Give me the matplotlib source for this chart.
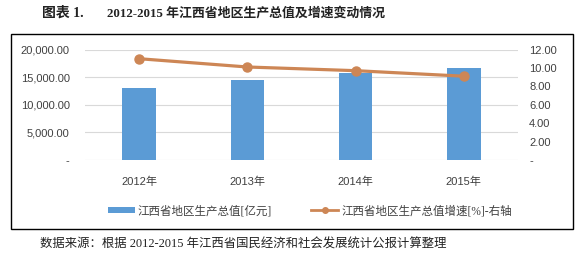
import matplotlib
matplotlib.use("Agg")
import matplotlib.pyplot as plt
from matplotlib.patches import Rectangle, Patch
from matplotlib.lines import Line2D
from matplotlib.ticker import FuncFormatter, FixedLocator

plt.rcParams['font.family'] = ['Liberation Sans', 'Noto Sans CJK SC']

years = ["2012年", "2013年", "2014年", "2015年"]
gdp = [12948.9, 14410.2, 15714.6, 16723.8]
growth = [11.0, 10.1, 9.7, 9.1]
left_ticks = [0, 5000, 10000, 15000, 20000]
right_ticks = [0, 2, 4, 6, 8, 10, 12]

W, H = 585, 261
fig = plt.figure(figsize=(W / 100, H / 100), dpi=100)

def fx(x):
    return x / W

def fy(y):
    return 1 - y / H

ax = fig.add_axes([fx(85), fy(160), fx(518) - fx(85), fy(49.5) - fy(160)])
x = list(range(len(years)))
ax.bar(x, gdp, width=0.31, color="#5B9BD5", zorder=2)
ax.set_xlim(-0.5, len(years) - 0.5)
ax.set_ylim(0, 20000)
ax.yaxis.set_major_locator(FixedLocator(left_ticks))
ax.yaxis.set_major_formatter(FuncFormatter(lambda v, p: "-" if v == 0 else f"{v:,.2f}"))
ax.grid(axis="y", color="#D9D9D9", lw=0.8, zorder=0)
ax.set_axisbelow(True)
ax.set_xticks(x)
ax.set_xticklabels(years)
for s in ax.spines.values():
    s.set_visible(False)
ax.tick_params(axis="both", length=0, labelsize=8, colors="#404040")
ax.tick_params(axis="x", pad=12)
ax.tick_params(axis="y", pad=11)

ax2 = ax.twinx()
line_color = "#CD8655"
ax2.plot(x, growth, color=line_color, lw=2.3, marker="o", ms=6.5, zorder=3)
ax2.set_ylim(0, 12)
ax2.yaxis.set_major_locator(FixedLocator(right_ticks))
ax2.yaxis.set_major_formatter(FuncFormatter(lambda v, p: "-" if v == 0 else f"{v:.2f}"))
for s in ax2.spines.values():
    s.set_visible(False)
ax2.tick_params(axis="y", length=0, labelsize=8, colors="#404040", pad=8)

# chart frame
fig.patches.append(Rectangle((fx(11), fy(229)), fx(573) - fx(11), fy(34) - fy(229),
                             transform=fig.transFigure, fill=False, edgecolor="black", lw=1.0))

handles = [Patch(facecolor="#5B9BD5", edgecolor="none"),
           Line2D([0], [0], color=line_color, lw=2, marker="o", ms=4)]
labels = ["江西省地区生产总值[亿元]", "江西省地区生产总值增速[%]-右轴"]
fig.legend(handles, labels, loc="center", bbox_to_anchor=(fx(310), fy(211)), ncol=2,
           frameon=False, handlelength=2.3, handleheight=0.5,
           columnspacing=3.4, handletextpad=0.3, labelcolor="#404040",
           prop={'family': ['Liberation Serif', 'Noto Sans CJK SC'], 'size': 8.3})

fig.text(fx(42), fy(13), "图表 1.", fontsize=10, fontweight="bold",
         family=['Liberation Serif', 'Noto Sans CJK SC'], va="center", color="#222222")
fig.text(fx(107), fy(13), "2012-2015 年江西省地区生产总值及增速变动情况", fontsize=9.3,
         fontweight="bold", family=['Liberation Serif', 'Noto Sans CJK SC'], va="center",
         color="#222222")
fig.text(fx(40), fy(245), "数据来源：根据 2012-2015 年江西省国民经济和社会发展统计公报计算整理",
         fontsize=8.9, family=['Liberation Serif', 'Noto Sans CJK SC'], va="center",
         color="#222222")

fig.savefig("out.png", dpi=100)
